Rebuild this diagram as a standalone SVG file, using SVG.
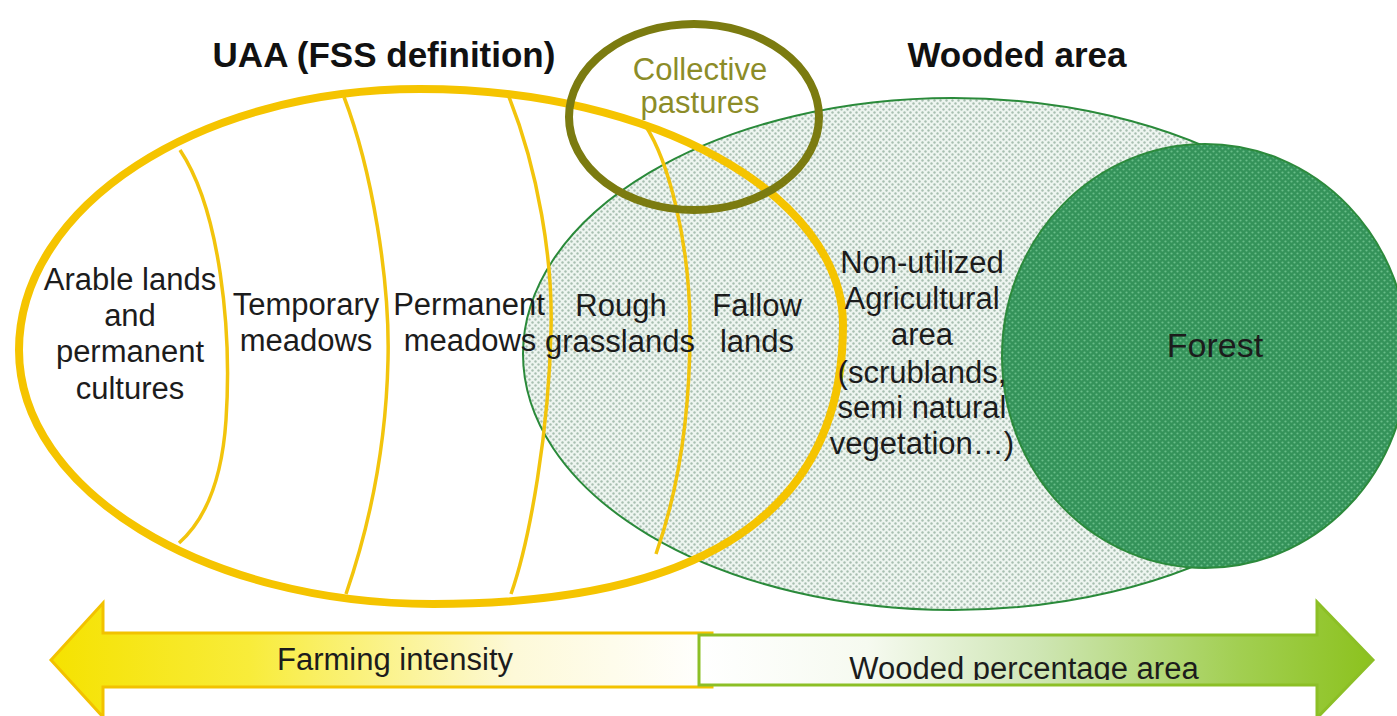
<svg xmlns="http://www.w3.org/2000/svg" width="1397" height="716" viewBox="0 0 1397 716">
<style>
.t{font-family:"Liberation Sans",Arial,sans-serif;font-size:31px;fill:#1c1c1c;text-anchor:middle}
.h{font-family:"Liberation Sans",Arial,sans-serif;font-size:35px;font-weight:bold;fill:#111;text-anchor:middle}
.div{fill:none;stroke:#f2c40c;stroke-width:3.5}
</style>
<defs>
<pattern id="pWood" width="6" height="6" patternUnits="userSpaceOnUse">
<rect width="6" height="6" fill="#eef5f0"/>
<circle cx="1.5" cy="1.5" r="1.2" fill="#a8bfb0"/>
<circle cx="4.5" cy="4.5" r="1.2" fill="#a8bfb0"/>
</pattern>
<pattern id="pForest" width="6" height="6" patternUnits="userSpaceOnUse">
<rect width="6" height="6" fill="#34935a"/>
<circle cx="1.5" cy="1.5" r="1.1" fill="#68bd88"/>
<circle cx="4.5" cy="4.5" r="1.1" fill="#68bd88"/>
</pattern>
<linearGradient id="gYel" gradientUnits="userSpaceOnUse" x1="51" y1="0" x2="712" y2="0">
<stop offset="0" stop-color="#f5e200"/>
<stop offset="0.3" stop-color="#f8ec3a"/>
<stop offset="0.7" stop-color="#fdf9d8"/>
<stop offset="1" stop-color="#ffffff"/>
</linearGradient>
<linearGradient id="gGrn" gradientUnits="userSpaceOnUse" x1="699" y1="0" x2="1373" y2="0">
<stop offset="0" stop-color="#ffffff"/>
<stop offset="0.25" stop-color="#f6faf0"/>
<stop offset="0.5" stop-color="#cfe6b5"/>
<stop offset="0.8" stop-color="#a2cf52"/>
<stop offset="1" stop-color="#8cc21e"/>
</linearGradient>
<clipPath id="clipBar"><rect x="0" y="0" width="1397" height="680"/></clipPath>
</defs>

<g id="wooded-area">
<ellipse cx="953" cy="354" rx="430" ry="256" fill="url(#pWood)" stroke="#2a8a3a" stroke-width="2"/>
</g>
<g id="forest">
<ellipse cx="1205" cy="356" rx="203" ry="212" fill="url(#pForest)" stroke="#2c8a3c" stroke-width="2"/>
<text class="t" x="1215" y="357" font-size="34" style="font-size:34px">Forest</text>
</g>

<g id="uaa">
<path class="div" d="M180,150 C220,210 232,330 226,420 C222,480 205,520 179,543"/>
<path class="div" d="M344,97 C372,170 390,280 388,360 C386,450 368,530 346,594"/>
<path class="div" d="M509,97 C538,170 553,260 551,330 C549,430 530,540 511,594"/>
<path class="div" d="M645,125 C668,160 690,240 690,330 C690,430 675,500 656,554"/>
<path d="M19,350 C19,206 199,89 420,89 C654,89 843,195 843,325 C843,515 700,604 433,604 C204,604 19,490 19,350 Z" fill="none" stroke="#f5c400" stroke-width="8"/>
</g>

<g id="collective-pastures">
<ellipse cx="694" cy="117" rx="125" ry="93" fill="none" stroke="#7b7b10" stroke-width="8"/>
<text class="t" x="700" y="80" style="fill:#8c8c28">Collective</text>
<text class="t" x="700" y="113" style="fill:#8c8c28">pastures</text>
</g>

<g id="labels">
<text class="h" x="384" y="67">UAA (FSS definition)</text>
<text class="h" x="1017" y="67">Wooded area</text>
<text class="t" x="130" y="290">Arable lands</text>
<text class="t" x="130" y="326">and</text>
<text class="t" x="130" y="362">permanent</text>
<text class="t" x="130" y="399">cultures</text>
<text class="t" x="306" y="315">Temporary</text>
<text class="t" x="306" y="351">meadows</text>
<text class="t" x="469" y="315">Permanent</text>
<text class="t" x="470" y="351">meadows</text>
<text class="t" x="621" y="316">Rough</text>
<text class="t" x="620" y="352">grasslands</text>
<text class="t" x="757" y="316">Fallow</text>
<text class="t" x="757" y="352">lands</text>
<text class="t" x="922" y="273">Non-utilized</text>
<text class="t" x="922" y="309">Agricultural</text>
<text class="t" x="922" y="345">area</text>
<text class="t" x="922" y="383">(scrublands,</text>
<text class="t" x="922" y="418">semi natural</text>
<text class="t" x="922" y="454">vegetation…)</text>
</g>

<g id="connectors">
<g id="farming-arrow">
<polygon points="51,660 103,603 103,633 712,633 712,687 103,687 103,717" fill="url(#gYel)" stroke="#f2c200" stroke-width="3" stroke-linejoin="miter"/>
<text class="t" x="395" y="670">Farming intensity</text>
</g>
<g id="wooded-arrow">
<polygon points="699,635 1317,635 1317,602 1373,660 1317,718 1317,685 699,685" fill="url(#gGrn)" stroke="#8cbf26" stroke-width="3"/>
<text class="t" x="1024" y="679" clip-path="url(#clipBar)">Wooded percentage area</text>
</g>
</g>
</svg>
